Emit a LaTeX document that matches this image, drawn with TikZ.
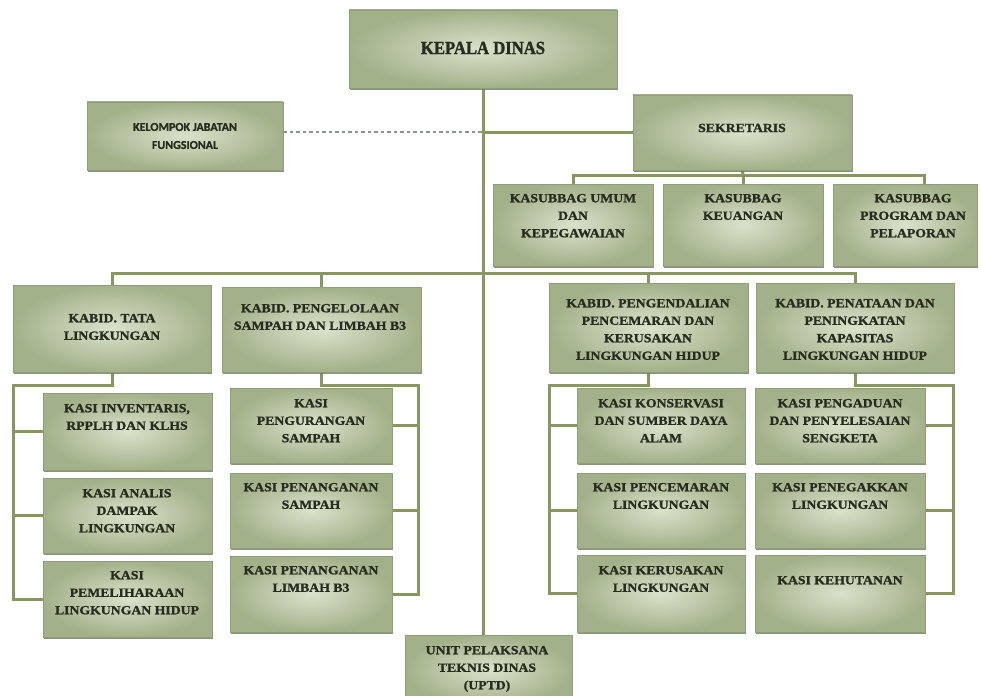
\documentclass[tikz,border=0pt]{standalone}
\usepackage{fontspec}
\newfontfamily\orgfont{Liberation Serif}[FakeStretch=1.1, BoldFeatures={FakeBold=1.3}]
\newfontfamily\kdfont{Liberation Serif}[FakeStretch=0.9, BoldFeatures={FakeBold=1.5}]
\newfontfamily\sansorg{Carlito}[BoldFeatures={FakeBold=1.2}]
\usetikzlibrary{fit,shadows,backgrounds}
\definecolor{linec}{RGB}{136,150,96}
\definecolor{boxdark}{RGB}{163,177,138}
\definecolor{boxlight}{RGB}{218,226,203}
\definecolor{boxedge}{RGB}{145,157,120}
\definecolor{shadowc}{RGB}{110,118,96}
\definecolor{textc}{RGB}{38,44,30}
\definecolor{dashc}{RGB}{140,146,140}
\tikzset{
  orgbox/.style={draw=boxedge, line width=0.7pt, inner sep=0pt, inner color=boxlight, outer color=boxdark,
    drop shadow={shadow xshift=1.3pt, shadow yshift=-2pt, fill=shadowc, opacity=0.8}},
  lbl/.style={font=\orgfont\bfseries\fontsize{12.5}{17.5}\selectfont, text=textc, align=center, inner sep=0pt, anchor=north},
  conn/.style={draw=linec, line width=3pt},
  dashconn/.style={draw=dashc, line width=2pt, dash pattern=on 3.5pt off 3pt}
}
\newcommand\obox[5]{\node[orgbox, fit={(#2,#3) (#4,#5)}] (#1) {};}
\newcommand\otext[4]{\node[lbl] (#1) at (#2,#3) {#4};}
\begin{document}
\begin{tikzpicture}[x=1pt,y=-1pt]
\useasboundingbox (0,0) rectangle (981,695);
% top
\obox{kd}{349}{10}{617}{88}
\node[font=\kdfont\bfseries\fontsize{18.5}{20}\selectfont, text=textc, inner sep=0pt] (kdt) at (483,48) {KEPALA DINAS};
\obox{kjf}{87}{102}{283}{170}
\node[font=\sansorg\bfseries\fontsize{12}{18}\selectfont, text=textc, align=center, inner sep=0pt] (kjft) at (185,136) {KELOMPOK JABATAN\\FUNGSIONAL};
\obox{sek}{633}{95}{852}{170}
\node[lbl, anchor=center] (sekt) at (742,128) {SEKRETARIS};
% kasubbag
\obox{ksu}{493}{184}{653}{266}
\otext{ksut}{573}{193.8}{KASUBBAG UMUM\\DAN\\KEPEGAWAIAN}
\obox{ksk}{663}{184}{823}{266}
\otext{kskt}{743}{193.8}{KASUBBAG\\KEUANGAN}
\obox{ksp}{833}{184}{977}{266}
\otext{kspt}{913}{193.8}{KASUBBAG\\PROGRAM DAN\\PELAPORAN}
% kabid
\obox{kbt}{13}{285}{211}{372}
\otext{kbtt}{112}{313.8}{KABID. TATA\\LINGKUNGAN}
\obox{kbp}{222}{287}{421}{372}
\otext{kbpt}{320}{303.8}{KABID. PENGELOLAAN\\SAMPAH DAN LIMBAH B3}
\obox{kbk}{549}{283}{748}{372}
\otext{kbkt}{648}{298.8}{KABID. PENGENDALIAN\\PENCEMARAN DAN\\KERUSAKAN\\LINGKUNGAN HIDUP}
\obox{kbn}{756}{283}{954}{372}
\otext{kbnt}{855}{298.8}{KABID. PENATAAN DAN\\PENINGKATAN\\KAPASITAS\\LINGKUNGAN HIDUP}
% kasi tata
\obox{kt1}{43}{393}{212}{470}
\otext{kt1t}{127}{403.8}{KASI INVENTARIS,\\RPPLH DAN KLHS}
\obox{kt2}{43}{478}{212}{553}
\otext{kt2t}{127}{488.8}{KASI ANALIS\\DAMPAK\\LINGKUNGAN}
\obox{kt3}{43}{561}{212}{637}
\otext{kt3t}{127}{570.8}{KASI\\PEMELIHARAAN\\LINGKUNGAN HIDUP}
% kasi pengelolaan
\obox{kp1}{230}{388}{392}{463}
\otext{kp1t}{311}{398.8}{KASI\\PENGURANGAN\\SAMPAH}
\obox{kp2}{230}{473}{392}{548}
\otext{kp2t}{311}{482.8}{KASI PENANGANAN\\SAMPAH}
\obox{kp3}{230}{556}{392}{632}
\otext{kp3t}{311}{565.8}{KASI PENANGANAN\\LIMBAH B3}
% kasi pengendalian
\obox{kk1}{577}{388}{745}{463}
\otext{kk1t}{661}{398.8}{KASI KONSERVASI\\DAN SUMBER DAYA\\ALAM}
\obox{kk2}{577}{473}{745}{548}
\otext{kk2t}{661}{482.8}{KASI PENCEMARAN\\LINGKUNGAN}
\obox{kk3}{577}{555}{745}{632}
\otext{kk3t}{661}{565.8}{KASI KERUSAKAN\\LINGKUNGAN}
% kasi penataan
\obox{kn1}{755}{388}{925}{463}
\otext{kn1t}{840}{398.8}{KASI PENGADUAN\\DAN PENYELESAIAN\\SENGKETA}
\obox{kn2}{755}{473}{925}{548}
\otext{kn2t}{840}{482.8}{KASI PENEGAKKAN\\LINGKUNGAN}
\obox{kn3}{755}{555}{925}{632}
\otext{kn3t}{840}{575.8}{KASI KEHUTANAN}
% uptd
\obox{uptd}{405}{635}{572}{705}
\otext{uptdt}{487}{645.8}{UNIT PELAKSANA\\TEKNIS DINAS\\(UPTD)}
% connectors
\coordinate (bar1) at (743,175);
\coordinate (kspdrop) at (924,175);
\coordinate (bar2) at (483,273);
\coordinate (tL) at (13,385);
\coordinate (pR) at (418,385);
\coordinate (kL) at (549,385);
\coordinate (nR) at (953,385);
\begin{scope}[on background layer]
\fill[white] (0,0) rectangle (981,695);
\draw[conn] (kd.south) -- (kd.south |- uptd.north);
\draw[dashconn] (kjf.east |- sek.west) -- (kd.south |- sek.west);
\draw[conn] (kd.south |- sek.west) -- (sek.west);
\draw[conn] (sek.south) -- (bar1);
\draw[conn] (ksu.north) -- (ksu.north |- bar1) -- (kspdrop) -- (kspdrop |- ksp.north);
\draw[conn] (ksk.north) -- (ksk.north |- bar1);
\draw[conn] (kbt.north) -- (kbt.north |- bar2) -- (kbn.north |- bar2) -- (kbn.north);
\draw[conn] (kbp.north) -- (kbp.north |- bar2);
\draw[conn] (kbk.north) -- (kbk.north |- bar2);
% tata
\draw[conn] (kbt.south) -- (kbt.south |- tL) -- (tL) -- (tL |- kt3.west) -- (kt3.west);
\draw[conn] (kt1.west) -- (kt1.west -| tL);
\draw[conn] (kt2.west) -- (kt2.west -| tL);
% pengelolaan
\draw[conn] (kbp.south) -- (kbp.south |- pR) -- (pR) -- (pR |- kp3.east) -- (kp3.east);
\draw[conn] (kp1.east) -- (kp1.east -| pR);
\draw[conn] (kp2.east) -- (kp2.east -| pR);
% pengendalian
\draw[conn] (kbk.south) -- (kbk.south |- kL) -- (kL) -- (kL |- kk3.west) -- (kk3.west);
\draw[conn] (kk1.west) -- (kk1.west -| kL);
\draw[conn] (kk2.west) -- (kk2.west -| kL);
% penataan
\draw[conn] (kbn.south) -- (kbn.south |- nR) -- (nR) -- (nR |- kn3.east) -- (kn3.east);
\draw[conn] (kn1.east) -- (kn1.east -| nR);
\draw[conn] (kn2.east) -- (kn2.east -| nR);
\end{scope}
\end{tikzpicture}
\end{document}
